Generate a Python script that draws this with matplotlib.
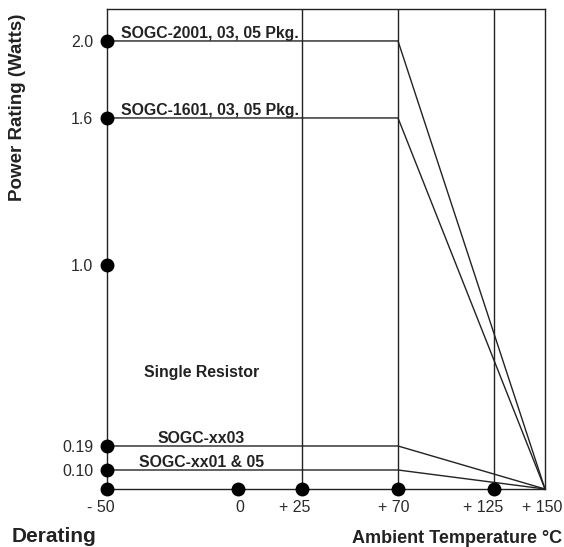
import numpy as np
import matplotlib
matplotlib.use('Agg')
from matplotlib import pyplot as plt
from matplotlib.transforms import ScaledTranslation

plt.rcParams['font.family'] = ['Liberation Sans', 'DejaVu Sans']

# data
temps = [-50, 70, 150]
curves = {
    'SOGC-2001, 03, 05 Pkg.': [2.0, 2.0, 0.0],
    'SOGC-1601, 03, 05 Pkg.': [1.6, 1.6, 0.0],
    'SOGC-xx03': [0.19, 0.19, 0.0],
    'SOGC-xx01 & 05': [0.10, 0.10, 0.0],
}
x_ticks = [-50, 0, 25, 70, 125, 150]
x_labels = ['- 50', '0', '+ 25', '+ 70', '+ 125', '+ 150']
x_dots = [-50, 0, 25, 70, 125]
grid_x = [25, 70, 125]
y_ticks = [0.10, 0.19, 1.0, 1.6, 2.0]
y_labels = ['0.10', '0.19', '1.0', '1.6', '2.0']

# the drawing uses an uneven scale on both axes
xs_v = [-50, 0, 25, 70, 125, 150]
xs_p = [0, 131, 195, 291, 387, 438]
ys_v = [0, 0.10, 0.19, 1.0, 1.6, 2.0, 2.2]
ys_p = [0, 19, 43, 224, 371, 448, 486.5]

def fx(v): return np.interp(v, xs_v, xs_p)
def ix(p): return np.interp(p, xs_p, xs_v)
def fy(v): return np.interp(v, ys_v, ys_p)
def iy(p): return np.interp(p, ys_p, ys_v)

W, H = 564, 547
fig = plt.figure(figsize=(W/100, H/100), dpi=100)
ax = fig.add_axes([107/W, (H-489)/H, (545-107)/W, (489-9)/H])
ax.set_xscale('function', functions=(fx, ix))
ax.set_yscale('function', functions=(fy, iy))
ax.set_xlim(-50, 150)
ax.set_ylim(0, 2.166)

lc = '#222222'
for sp in ax.spines.values():
    sp.set_linewidth(1.0)
    sp.set_color(lc)

for gx in grid_x:
    ax.axvline(gx, color=lc, lw=1.0)

for name, vals in curves.items():
    ax.plot(temps, vals, color=lc, lw=1.0)

ax.plot(x_dots, [0]*len(x_dots), 'o', color='black', ms=9, clip_on=False, zorder=5)
ax.plot([-50]*len(y_ticks), y_ticks, 'o', color='black', ms=9, clip_on=False, zorder=5)

ax.set_xticks(x_ticks)
ax.set_xticklabels(x_labels)
ax.set_yticks(y_ticks)
ax.set_yticklabels(y_labels)
ax.minorticks_off()
ax.tick_params(length=0, labelsize=11.5, colors='#2a2a2a')
ax.tick_params(axis='x', pad=8)
ax.tick_params(axis='y', pad=10)

# labels in the original sit a little off their ticks
shift = [-6.5, 1.5, -7, -4.5, -11, -3]
for lab, dx in zip(ax.get_xticklabels(), shift):
    lab.set_transform(lab.get_transform() + ScaledTranslation(dx/100, 0, fig.dpi_scale_trans))

bold = dict(fontsize=11.4, fontweight='bold', color='#222222')
ax.text(-44.5, 2.0, 'SOGC-2001, 03, 05 Pkg.', va='bottom', ha='left', **bold)
ax.text(-44.5, 1.6, 'SOGC-1601, 03, 05 Pkg.', va='bottom', ha='left', **bold)
ax.text(-14, 0.19, 'SOGC-xx03', va='bottom', ha='center', **bold)
ax.text(-14, 0.10, 'SOGC-xx01 & 05', va='bottom', ha='center', **bold)
ax.text(-14, 0.52, 'Single Resistor', va='center', ha='center', **bold)

fig.text(12/W, 1-542/H, 'Derating', fontsize=15, fontweight='bold', color='#222222', va='baseline', ha='left')
fig.text(562/W, 1-543/H, 'Ambient Temperature \u00b0C', fontsize=13, fontweight='bold', color='#222222', va='baseline', ha='right')
fig.text(18/W, 1-107/H, 'Power Rating (Watts)', fontsize=13.5, fontweight='bold', color='#222222', rotation=90, va='center', ha='center')

fig.savefig('out.png', dpi=100)
